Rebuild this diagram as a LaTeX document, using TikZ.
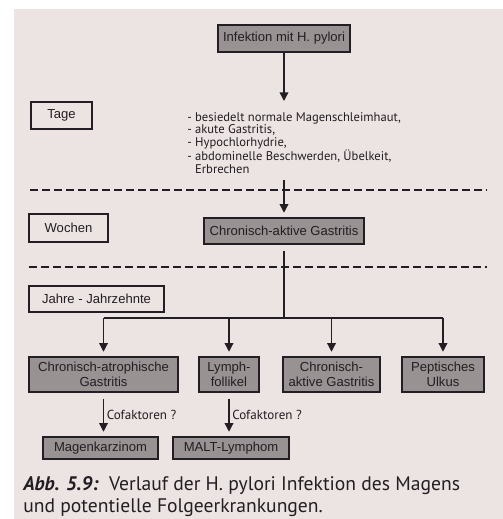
\documentclass[tikz,border=0pt]{standalone}
\usepackage{fontspec}
\setmainfont{Liberation Sans}
\newfontfamily\listfont{PT Sans}
\usetikzlibrary{arrows.meta}

\definecolor{pagecol}{RGB}{236,228,226}
\definecolor{boxgrey}{RGB}{152,146,146}
\definecolor{inkcol}{RGB}{35,30,35}

\tikzset{
  box/.style={draw=inkcol, line width=0.9pt, text=inkcol, align=center, inner sep=0pt,
    font=\fontsize{9.8}{11.3}\selectfont},
  greybox/.style={box, fill=boxgrey},
  conn/.style={draw=inkcol, line width=1pt, -{Triangle[length=6.5pt,width=6.5pt]}},
  sepline/.style={draw=inkcol, line width=1.4pt, dash pattern=on 6pt off 3pt},
}

\begin{document}
\begin{tikzpicture}[x=0.75pt,y=0.75pt,yscale=-1,xscale=1]
\useasboundingbox (0,0) rectangle (503,519);
%Page
\fill[white] (0,0) rectangle (503,519);
\fill[pagecol] (14,9) rectangle (503,519);

%Dashed Lines
\draw[sepline] (30,190) -- (487,190);
\draw[sepline] (29,267) -- (487,267);

% Time boxes
\node[box, minimum width=45.75pt, minimum height=20.25pt] (tage) at (61.5,115.5) {Tage};
\node[box, minimum width=59.25pt, minimum height=21pt] (wochen) at (68.5,228) {Wochen};
\node[box, minimum width=101.25pt, minimum height=19.5pt] (jahre) at (96.5,299) {Jahre - Jahrzehnte};

% Grey boxes
\node[greybox, minimum width=99pt, minimum height=20.25pt] (infekt) at (284,38.5) {Infektion mit H. pylori};
\node[greybox, minimum width=120pt, minimum height=19.5pt] (chron) at (284,231) {Chronisch-aktive Gastritis};
\node[greybox, minimum width=111.75pt, minimum height=26.25pt] (atroph) at (103.5,374.5) {Chronisch-atrophische\\Gastritis};
\node[greybox, minimum width=45pt, minimum height=26.25pt] (lymph) at (229,374.5) {Lymph-\\follikel};
\node[greybox, minimum width=72.75pt, minimum height=26.25pt] (aktiv) at (331.5,374.5) {Chronisch-\\aktive Gastritis};
\node[greybox, minimum width=61.5pt, minimum height=26.25pt] (ulkus) at (443,374.5) {Peptisches\\Ulkus};
\node[greybox, minimum width=86.25pt, minimum height=16.5pt] (magen) at (100.5,448) {Magenkarzinom};
\node[greybox, minimum width=87pt, minimum height=16.5pt] (malt) at (231,448) {MALT-Lymphom};

% Text Node
\node[anchor=north west, inner sep=0pt, align=left, text=inkcol,
  font=\listfont\fontsize{9.45}{9.4}\selectfont] (symptome) at (187,112)
  {- besiedelt normale Magenschleimhaut,\\- akute Gastritis,\\- Hypochlorhydrie,\\- abdominelle Beschwerden, Übelkeit,\\\hphantom{- }Erbrechen};

%Straight Lines
\coordinate (tip1) at (284,101);
\coordinate (from2) at (284,180);
\coordinate (branch) at (284,318);
\draw[conn] (infekt) -- (tip1);
\draw[conn, shorten >=3.5pt] (from2) -- (chron);
\draw[draw=inkcol, line width=1pt, shorten <=4.5pt] (chron) -- (branch);
\draw[draw=inkcol, line width=1pt] (atroph.north |- branch) -- (ulkus.north |- branch);
\foreach \b in {atroph,lymph,aktiv,ulkus}
  \draw[conn, shorten >=3.5pt] (\b.north |- branch) -- (\b);
\draw[conn, shorten <=4.5pt, shorten >=3.5pt] (atroph) -- (atroph.south |- magen.north)
  node[midway, right, inner sep=2pt, text=inkcol, font=\listfont\fontsize{9.8}{11}\selectfont] {Cofaktoren ?};
\draw[conn, shorten <=4.5pt, shorten >=3.5pt] (lymph) -- (lymph.south |- malt.north)
  node[midway, right, inner sep=2pt, text=inkcol, font=\listfont\fontsize{9.8}{11}\selectfont] {Cofaktoren ?};

% Caption
\node[anchor=north west, inner sep=0pt, align=left, text=inkcol,
  font=\listfont\fontsize{14.7}{16.3}\selectfont] (caption) at (23,476)
  {\textbf{\textit{Abb. 5.9:}}\ \ Verlauf der H. pylori Infektion des Magens\\und potentielle Folgeerkrankungen.};
\end{tikzpicture}
\end{document}
